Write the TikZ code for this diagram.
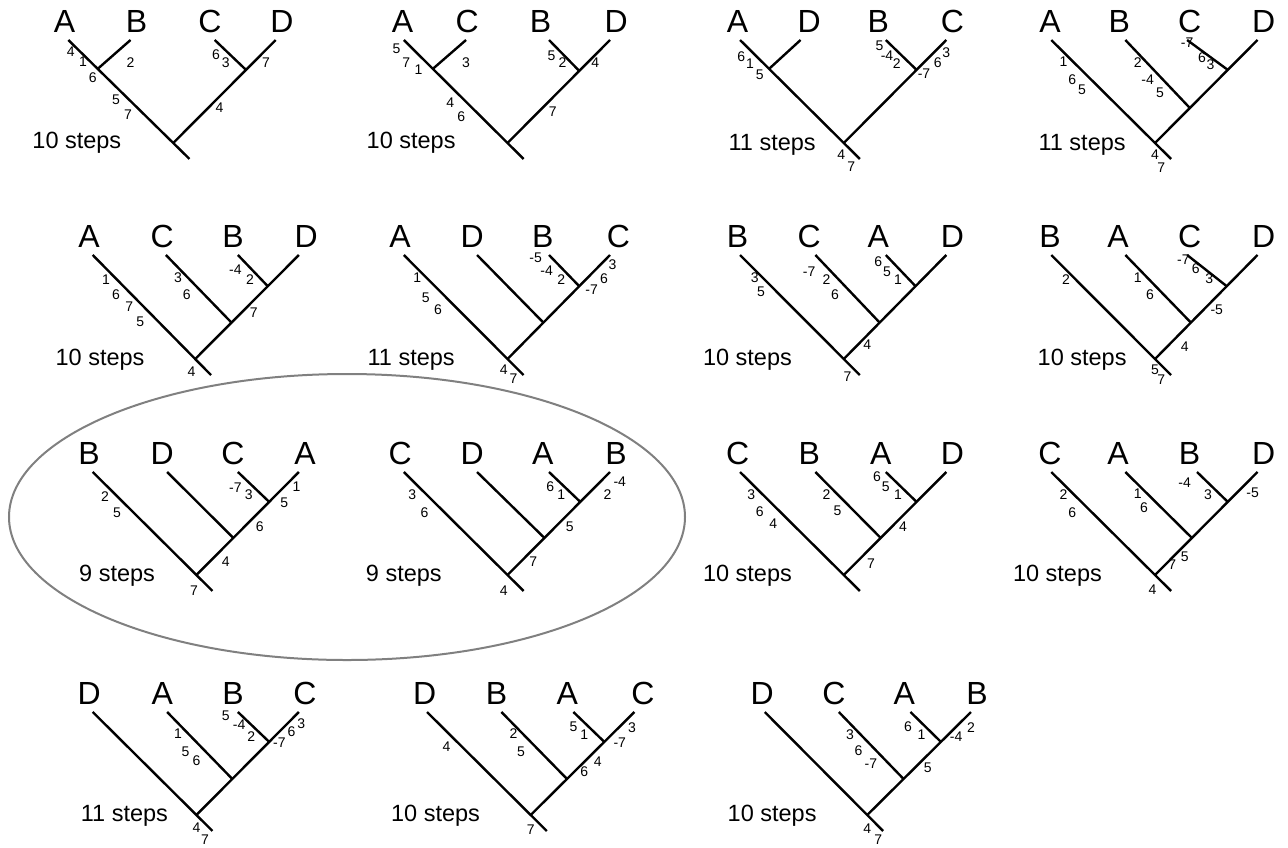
\documentclass[tikz,border=0pt]{standalone}
\usepackage{fontspec}
\setmainfont{Liberation Sans}
\usetikzlibrary{calc}
\definecolor{ellgray}{RGB}{128,128,128}
% horizontal calibration of the measured x values
\pgfmathdeclarefunction{tx}{1}{\pgfmathparse{#1<640 ? 1.22*#1 : 640+1.235*(#1-640)}}
\tikzset{
  br/.style={line width=2.4pt},
  tax/.style={font=\fontsize{32}{32}\selectfont, inner sep=0pt},
  num/.style={font=\fontsize{14}{14}\selectfont, inner sep=0pt},
  stp/.style={font=\fontsize{23.5}{24}\selectfont, inner sep=0pt, anchor=base},
}
% balanced tree ((P,Q),(R,S))
\newcommand{\baltree}[9]{% id, Px,Qx,Rx,Sx, ty, rx, ry, fr
  \coordinate (t#1p) at ({tx(#2)},#6);
  \coordinate (t#1q) at ({tx(#3)},#6);
  \coordinate (t#1rr) at ({tx(#4)},#6);
  \coordinate (t#1s) at ({tx(#5)},#6);
  \coordinate (t#1root) at ({tx(#7)},#8);
  \coordinate (t#1stem) at ($(t#1p)!1.155!(t#1root)$);
  \coordinate (t#1jl) at ($(t#1p)!0.28!(t#1root)$);
  \coordinate (t#1jr) at ($(t#1s)!#9!(t#1root)$);
  \draw[br] (t#1p) -- (t#1stem);
  \draw[br] (t#1s) -- (t#1root);
  \draw[br] (t#1q) -- (t#1jl);
  \draw[br] (t#1rr) -- (t#1jr);
}
% caterpillar (P,(Q,(R,S)))
\newcommand{\cattree}[9]{% id, Px,Qx,Rx,Sx, ty, rx, ry, f1/f2
  \coordinate (t#1p) at ({tx(#2)},#6);
  \coordinate (t#1q) at ({tx(#3)},#6);
  \coordinate (t#1rr) at ({tx(#4)},#6);
  \coordinate (t#1s) at ({tx(#5)},#6);
  \coordinate (t#1root) at ({tx(#7)},#8);
  \coordinate (t#1stem) at ($(t#1p)!1.155!(t#1root)$);
  \draw[br] (t#1p) -- (t#1stem);
  \draw[br] (t#1s) -- (t#1root);
  \foreach \fa/\fb in {#9}{
    \coordinate (t#1ja) at ($(t#1s)!\fa!(t#1root)$);
    \coordinate (t#1jb) at ($(t#1s)!\fb!(t#1root)$);
  }
  \draw[br] (t#1rr) -- (t#1ja);
  \draw[br] (t#1q) -- (t#1jb);
}
\begin{document}
\begin{tikzpicture}[x=1pt,y=-1pt]
\path[use as bounding box] (0,0) rectangle (1288,847);

% ellipse
\draw[ellgray, line width=2pt] (347,517) ellipse [x radius=338, y radius=143];

% ---------- Row 1 ----------
\baltree{1}{56}{107}{176}{226}{40}{142}{143}{0.29}
\baltree{2}{331}{382}{450}{500}{40}{416}{143}{0.30}
\baltree{3}{721}{770}{839}{888}{40}{805}{143}{0.29}
\cattree{4}{973}{1033}{1083}{1140}{40}{1057}{143}{0.29/0.66}

% ---------- Row 2 ----------
\cattree{5}{76}{136}{195}{245}{255}{160}{359}{0.30/0.65}
\cattree{6}{331}{391}{450}{500}{255}{416}{359}{0.30/0.65}
\cattree{7}{721}{782}{839}{888}{255}{805}{359}{0.30/0.65}
\cattree{8}{973}{1033}{1083}{1140}{255}{1057}{359}{0.30/0.65}

% ---------- Row 3 ----------
\cattree{9}{76}{137}{195}{245}{472}{161}{575}{0.29/0.64}
\cattree{10}{331}{391}{450}{500}{472}{416}{575}{0.29/0.64}
\cattree{11}{721}{782}{839}{888}{472}{805}{575}{0.29/0.64}
\cattree{12}{973}{1033}{1091}{1140}{472}{1057}{575}{0.29/0.64}

% ---------- Row 4 ----------
\cattree{13}{76}{137}{195}{245}{712}{161}{815}{0.29/0.65}
\cattree{14}{350}{411}{470}{520}{712}{435}{815}{0.29/0.65}
\cattree{15}{741}{801}{859}{908}{712}{824}{815}{0.29/0.65}

% ---------- taxon labels ----------
\foreach \x/\y/\t/\n in {
  53/21.5/A/1a, 112/21.5/B/1b, 172/21.5/C/1c, 231/21.5/D/1d,
  330/21.5/A/2a, 383/21.5/C/2c, 443/21.5/B/2b, 505/21.5/D/2d,
  719/21.5/A/3a, 777/21.5/D/3d, 833/21.5/B/3b, 893/21.5/C/3c,
  972/21.5/A/4a, 1028/21.5/B/4b, 1085/21.5/C/4c, 1145/21.5/D/4d,
  73/236.5/A/5a, 133/236.5/C/5c, 191/236.5/B/5b, 251/236.5/D/5d,
  328/236.5/A/6a, 387/236.5/D/6d, 445/236.5/B/6b, 507/236.5/C/6c,
  719/236.5/B/7b, 777/236.5/C/7c, 833/236.5/A/7a, 893/236.5/D/7d,
  972/236.5/B/8b, 1027/236.5/A/8a, 1085/236.5/C/8c, 1145/236.5/D/8d,
  73/453.5/B/9b, 133/453.5/D/9d, 191/453.5/C/9c, 250/453.5/A/9a,
  328/453.5/C/10c, 387/453.5/D/10d, 445/453.5/A/10a, 505/453.5/B/10b,
  719/453.5/C/11c, 777/453.5/B/11b, 835/453.5/A/11a, 893/453.5/D/11d,
  972/453.5/C/12c, 1027/453.5/A/12a, 1085/453.5/B/12b, 1145/453.5/D/12d,
  73/693.5/D/13d, 133/693.5/A/13a, 191/693.5/B/13b, 250/693.5/C/13c,
  348/693.5/D/14d, 407/693.5/B/14b, 465/693.5/A/14a, 527/693.5/C/14c,
  739/693.5/D/15d, 797/693.5/C/15c, 854/693.5/A/15a, 913/693.5/B/15b}
  \node[tax] (L\n) at ({tx(\x)},\y) {\t};

% ---------- step counts ----------
\foreach \x/\y/\t [count=\i] in {
  63/140/10, 337/140/10, 747/142/11, 998/142/11,
  82/357/10, 337/357/11, 727/357/10, 998/357/10,
  96/573/9, 331/573/9, 727/573/10, 978/573/10,
  102/813/11, 357/813/10, 747/813/10}
  \node[stp] (S\i) at ({tx(\x)},\y+8) {\t\ steps};

% ---------- character-change numbers ----------
\foreach \x/\y/\t [count=\i] in {
  58/52/4, 68/62/1, 76/78/6, 107/63/2, 95/100/5, 105/115/7, 177/55/6, 185/63/3, 218/63/7, 180/108/4,
  325/49/5, 333/63/7, 343/70/1, 382/63/3, 369/103/4, 378/117/6, 452/56/5, 461/63/2, 488/63/4, 453/112/7,
  722/57/6, 729/64/1, 737/75/5, 834/46/5, 840/56/-4, 848/64/2, 881/63/6, 888/53/3, 870/74/-7, 803/155/4, 811/167/7,
  983/62/1, 990/80/6, 998/90/5, 1043/63/2, 1051/80/-4, 1061/93/5, 1083/43/-7, 1095/58/6, 1102/65/3, 1057/155/4, 1062/168/7}
  \node[num] (N\i) at ({tx(\x)},\y) {\t};
\foreach \x/\y/\t [count=\i] in {
  87/280/1, 95/295/6, 106/307/7, 115/322/5, 146/278/3, 153/295/6, 193/270/-4, 205/280/2, 208/313/7, 157/372/4,
  342/278/1, 349/298/5, 359/310/6, 439/258/-5, 448/271/-4, 460/280/2, 502/265/3, 495/279/6, 485/290/-7, 413/370/4, 421/379/7,
  733/278/3, 738/292/5, 777/272/-7, 791/280/2, 798/295/6, 833/262/6, 840/272/5, 849/280/1, 824/345/4, 808/377/7,
  985/280/2, 1043/278/1, 1053/295/6, 1080/260/-7, 1090/269/6, 1101/279/3, 1107/310/-5, 1081/347/4, 1057/370/5, 1062/380/7}
  \node[num] (M\i) at ({tx(\x)},\y) {\t};
\foreach \x/\y/\t [count=\i] in {
  86/497/2, 96/513/5, 193/488/-7, 204/495/3, 243/487/1, 233/503/5, 213/527/6, 185/562/4, 159/591/7,
  338/495/3, 348/513/6, 451/487/6, 460/495/1, 498/495/2, 508/482/-4, 467/527/5, 437/562/7, 413/591/4,
  730/495/3, 737/512/6, 748/524/4, 791/495/2, 800/511/5, 832/477/6, 839/487/5, 849/495/1, 853/527/4, 827/564/7,
  983/495/2, 990/513/6, 1043/494/1, 1048/508/6, 1081/483/-4, 1100/495/3, 1136/493/-5, 1081/557/5, 1071/565/7, 1055/590/4}
  \node[num] (P\i) at ({tx(\x)},\y) {\t};
\foreach \x/\y/\t [count=\i] in {
  146/734/1, 152/752/5, 161/761/6, 185/716/5, 196/725/-4, 206/737/2, 247/724/3, 239/732/6, 229/743/-7, 161/828/4, 168/840/7,
  366/747/4, 421/734/2, 427/752/5, 470/727/5, 479/735/1, 508/743/-7, 518/728/3, 490/762/4, 479/772/6, 435/830/7,
  810/735/3, 817/751/6, 827/764/-7, 857/727/6, 868/735/1, 896/737/-4, 908/728/2, 873/768/5, 824/829/4, 833/840/7}
  \node[num] (Q\i) at ({tx(\x)},\y) {\t};
\end{tikzpicture}
\end{document}
